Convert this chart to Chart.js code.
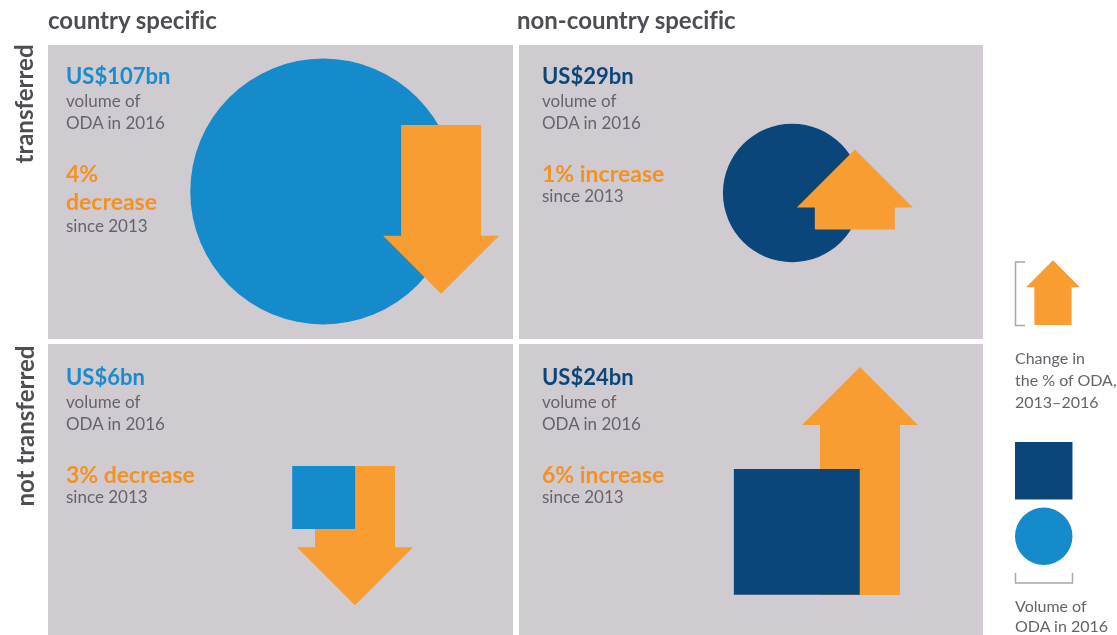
<!DOCTYPE html>
<html>
<head>
<meta charset="utf-8">
<script src="https://cdn.jsdelivr.net/npm/chart.js@4.4.0/dist/chart.umd.min.js"></script>
<style>
  html, body { margin: 0; padding: 0; background: #fff; }
  #wrap { position: relative; width: 1117px; height: 635px; overflow: hidden; font-family: Lato, sans-serif; font-variant-ligatures: none; }
  #chart { position: absolute; left: 0; top: 0; }
  .line { position: absolute; white-space: nowrap; }
  .head { font-weight: 700; font-size: 24px; color: #504c54; }
  .side { font-weight: 700; font-size: 24px; color: #504c54; transform: translate(-50%, -50%) rotate(-90deg); }
  .num { font-weight: 700; font-size: 22px; }
  .txt { font-size: 17px; color: #66636a; }
  .chg { font-weight: 700; font-size: 23px; color: #f29224; }
  .leg { font-size: 16px; color: #66636a; }
</style>
</head>
<body>
<div id="wrap">
  <canvas id="chart" width="1117" height="641"></canvas>
</div>
<script>
// panels: columns x rows
const columns = ['country specific', 'non-country specific'];
const rows = ['transferred', 'not transferred'];

// one entry per panel
const panelCol = [0, 1, 0, 1];
const panelRow = [0, 0, 1, 1];
const volumes = [107, 29, 6, 24];   // US$bn, 2016
const changes = [-4, 1, -3, 6];     // % change 2013-2016

// legend key values
const legendVolume = 5;
const legendChange = 3;

// layout only: where shapes/arrows sit inside each panel (fraction of the cell)
const shapeAt = [[0.588, 0.494], [0.590, 0.499], [0.589, 0.526], [0.600, 0.642]];
const arrowAt = [[0.840, 0.270], [0.724, 0.622], [0.656, 0.420], [0.735, 0.855]];
const textX = [66, 542, 66, 542];

const LIGHT_BLUE = '#168bcc';
const NAVY = '#0b467a';
const ORANGE = '#f89d32';
const PANEL = '#cfcbd0';

const PX_PER_SQRT_BN = 25.7;   // circle diameter / square side
const ARROW_BASE = 50.4;
const ARROW_PER_PCT = 29.6;
const HEAD_HALF = 58, HEAD_H = 58, SHAFT_HALF = 40;

function colColour(c) { return c === 0 ? LIGHT_BLUE : NAVY; }

// bubbles: circles for transferred, squares for not transferred
const circleData = [], circleColours = [];
const squareData = [], squareColours = [];
volumes.forEach((v, i) => {
    const size = PX_PER_SQRT_BN * Math.sqrt(v);
    const pt = { x: panelCol[i] + shapeAt[i][0], y: panelRow[i] + shapeAt[i][1] };
    if (panelRow[i] === 0) {
        circleData.push({ ...pt, r: size / 2 });
        circleColours.push(colColour(panelCol[i]));
    } else {
        squareData.push({ ...pt, r: size / Math.SQRT2 });
        squareColours.push(colColour(panelCol[i]));
    }
});

function drawArrow(ctx, cx, tailY, len, dir, s) {
    const tip = tailY + dir * len;
    const base = tip - dir * HEAD_H * s;
    ctx.beginPath();
    ctx.moveTo(cx - SHAFT_HALF * s, tailY);
    ctx.lineTo(cx + SHAFT_HALF * s, tailY);
    ctx.lineTo(cx + SHAFT_HALF * s, base);
    ctx.lineTo(cx + HEAD_HALF * s, base);
    ctx.lineTo(cx, tip);
    ctx.lineTo(cx - HEAD_HALF * s, base);
    ctx.lineTo(cx - SHAFT_HALF * s, base);
    ctx.closePath();
    ctx.fillStyle = ORANGE;
    ctx.fill();
}

const panelsPlugin = {
    id: 'panels',
    beforeDatasetsDraw(chart) {
        const ctx = chart.ctx, xs = chart.scales.x, ys = chart.scales.y;
        ctx.save();
        ctx.fillStyle = PANEL;
        for (let c = 0; c < columns.length; c++) {
            for (let r = 0; r < rows.length; r++) {
                const x0 = xs.getPixelForValue(c) + (c > 0 ? 3 : 0);
                const x1 = xs.getPixelForValue(c + 1) - (c < columns.length - 1 ? 3 : 1);
                const y0 = ys.getPixelForValue(r) + (r > 0 ? 2.5 : 0);
                const y1 = ys.getPixelForValue(r + 1) - (r < rows.length - 1 ? 2.5 : 0);
                ctx.fillRect(x0, y0, x1 - x0, y1 - y0);
            }
        }
        ctx.restore();
    },
    afterDatasetDraw(chart, args) {
        // arrows sit above the circles but below the squares
        if (chart.data.datasets[args.index].label !== 'circles') return;
        const ctx = chart.ctx, xs = chart.scales.x, ys = chart.scales.y;
        ctx.save();
        changes.forEach((p, i) => {
            const cx = xs.getPixelForValue(panelCol[i] + arrowAt[i][0]);
            const tail = ys.getPixelForValue(panelRow[i] + arrowAt[i][1]);
            const len = ARROW_BASE + ARROW_PER_PCT * Math.abs(p);
            drawArrow(ctx, cx, tail, len, p < 0 ? 1 : -1, 1);
        });
        ctx.restore();
    },
    afterDraw(chart) {
        // key on the right
        const ctx = chart.ctx;
        ctx.save();
        const s = 0.465;
        drawArrow(ctx, 1053, 325, (ARROW_BASE + ARROW_PER_PCT * legendChange) * s, -1, s);
        ctx.strokeStyle = '#a9a7ad';
        ctx.lineWidth = 1.5;
        ctx.beginPath();
        ctx.moveTo(1025, 262); ctx.lineTo(1015.5, 262); ctx.lineTo(1015.5, 325.5); ctx.lineTo(1025, 325.5);
        ctx.stroke();
        const side = PX_PER_SQRT_BN * Math.sqrt(legendVolume);
        ctx.fillStyle = NAVY;
        ctx.fillRect(1015, 442, side, side);
        ctx.fillStyle = LIGHT_BLUE;
        ctx.beginPath();
        ctx.arc(1015 + side / 2, 507.5 + side / 2, side / 2, 0, Math.PI * 2);
        ctx.fill();
        ctx.beginPath();
        ctx.moveTo(1015.5, 573); ctx.lineTo(1015.5, 583); ctx.lineTo(1015 + side, 583); ctx.lineTo(1015 + side, 573);
        ctx.stroke();
        ctx.restore();
    }
};

new Chart(document.getElementById('chart'), {
    type: 'bubble',
    data: {
        datasets: [
            { label: 'circles', data: circleData, backgroundColor: circleColours, pointStyle: 'circle',
              borderWidth: 0, hoverRadius: 0, order: 2, clip: false },
            { label: 'squares', data: squareData, backgroundColor: squareColours, pointStyle: 'rect',
              borderWidth: 0, hoverRadius: 0, order: 1, clip: false }
        ]
    },
    options: {
        responsive: false,
        animation: false,
        events: [],
        layout: { autoPadding: false, padding: { left: 48, top: 45, right: 133, bottom: 3 } },
        scales: {
            x: { type: 'linear', min: 0, max: columns.length, display: false },
            y: { type: 'linear', min: 0, max: rows.length, reverse: true, display: false }
        },
        plugins: { legend: { display: false }, tooltip: { enabled: false } }
    },
    plugins: [panelsPlugin]
});

// text
const wrap = document.getElementById('wrap');
function addLine(text, cls, x, cy, h, color) {
    const d = document.createElement('div');
    d.className = 'line ' + cls;
    d.textContent = text;
    d.style.left = x + 'px';
    d.style.top = (cy - h / 2) + 'px';
    d.style.height = h + 'px';
    d.style.lineHeight = h + 'px';
    if (color) d.style.color = color;
    wrap.appendChild(d);
    return d;
}

addLine(columns[0], 'head', 48, 20, 28);
addLine(columns[1], 'head', 517, 20, 28);
[[24, 103.5], [25, 426]].forEach(([x, y], r) => {
    const d = addLine(rows[r], 'side', x, y, 28);
    d.style.top = y + 'px';
});

const rowTop = [76, 377];
volumes.forEach((v, i) => {
    const x = textX[i];
    const y = rowTop[panelRow[i]];
    addLine('US$' + v + 'bn', 'num', x, y, 28, panelCol[i] === 0 ? '#1a8bcb' : NAVY);
    addLine('volume of', 'txt', x, y + 25, 22);
    addLine('ODA in 2016', 'txt', x, y + 47, 22);
    const pct = Math.abs(changes[i]) + '%';
    const word = changes[i] < 0 ? 'decrease' : 'increase';
    if (i === 0) {
        addLine(pct, 'chg', x, y + 97, 28);
        addLine(word, 'chg', x, y + 125, 28);
        addLine('since 2013', 'txt', x, y + 150, 22);
    } else {
        addLine(pct + ' ' + word, 'chg', x, y + 97, 28);
        addLine('since 2013', 'txt', x, y + 120, 22);
    }
});

addLine('Change in', 'leg', 1015, 358, 20);
addLine('the % of ODA,', 'leg', 1015, 380, 20);
addLine('2013\u20132016', 'leg', 1015, 402, 20);
addLine('Volume of', 'leg', 1015, 606, 20);
addLine('ODA in 2016', 'leg', 1015, 626, 20);
</script>
</body>
</html>
